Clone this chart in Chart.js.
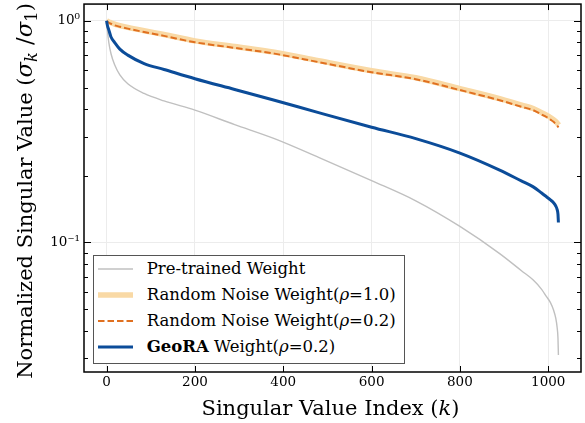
<!DOCTYPE html>
<html>
<head>
<meta charset="utf-8">
<script src="https://cdn.jsdelivr.net/npm/chart.js@4"></script>
<style>
html,body{margin:0;padding:0;background:#fff;}
#wrap{position:relative;width:585px;height:423px;font-family:"DejaVu Serif",serif;color:#000;overflow:hidden;}
#c{position:absolute;left:0;top:0;}
.t{position:absolute;white-space:nowrap;}
#xtitle{left:80.5px;width:500px;top:397.7px;text-align:center;font-size:21px;line-height:20px;}
#ytitle{left:-185.6px;top:181px;width:420px;height:20px;text-align:center;font-size:21px;line-height:20px;transform:rotate(-90deg);transform-origin:50% 50%;}
#ytitle .m{font-size:1.08em;}
sub{font-size:0.72em;vertical-align:-0.28em;line-height:0;}
#legbox{position:absolute;left:93px;top:255px;width:312px;height:109px;box-sizing:border-box;border:1px solid #555;background:#fff;}
.lg{font-size:16.5px;line-height:20px;left:146.7px;}
#samples{position:absolute;left:0;top:0;}
</style>
</head>
<body>
<div id="wrap">
  <canvas id="c" width="585" height="423"></canvas>
  <div id="legbox"></div>
  <svg id="samples" width="585" height="423">
    <line x1="98" y1="269" x2="133" y2="269" stroke="#c0c0c0" stroke-width="1.5"/>
    <line x1="98" y1="295" x2="133" y2="295" stroke="#f9d9a5" stroke-width="5.5"/>
    <line x1="98" y1="321" x2="133" y2="321" stroke="#e07020" stroke-width="2" stroke-dasharray="6.5,3"/>
    <line x1="98" y1="347" x2="133" y2="347" stroke="#0b4c99" stroke-width="3"/>
  </svg>
  <div class="t lg" style="top:258.8px">Pre-trained Weight</div>
  <div class="t lg" style="top:284.8px">Random Noise Weight(<i>ρ</i>=1.0)</div>
  <div class="t lg" style="top:310.8px">Random Noise Weight(<i>ρ</i>=0.2)</div>
  <div class="t lg" style="top:336.8px"><b>GeoRA</b> Weight(<i>ρ</i>=0.2)</div>
  <div class="t" id="xtitle">Singular Value Index (<i>k</i>)</div>
  <div class="t" id="ytitle">Normalized Singular Value (<span class="m"><i>σ<sub>k</sub></i> /<i>σ</i><sub>1</sub></span>)</div>
</div>
<script>
// ---- data ----
const kIdx = [0, 2, 5, 10, 18, 30, 48, 85, 130, 200, 290, 380, 480, 600, 700, 800, 890, 940, 966, 985, 996, 1005, 1012, 1017, 1020, 1022, 1023];
const pretrained = [1.0, 0.90, 0.80, 0.71, 0.635, 0.57, 0.52, 0.47, 0.435, 0.395, 0.34, 0.294, 0.242, 0.19, 0.154, 0.118, 0.089, 0.0743, 0.0676, 0.0614, 0.0569, 0.0535, 0.0495, 0.0455, 0.0415, 0.037, 0.031];
const noiseRho10 = [1.0, 0.995, 0.988, 0.98, 0.967, 0.952, 0.934, 0.902, 0.867, 0.812, 0.766, 0.722, 0.661, 0.595, 0.553, 0.494, 0.445, 0.416, 0.402, 0.385, 0.375, 0.366, 0.358, 0.351, 0.346, 0.342, 0.339];
const noiseRho02 = [1.0, 0.99, 0.98, 0.97, 0.955, 0.94, 0.922, 0.89, 0.855, 0.80, 0.755, 0.711, 0.651, 0.586, 0.545, 0.487, 0.438, 0.409, 0.395, 0.378, 0.368, 0.358, 0.35, 0.342, 0.337, 0.333, 0.33];
const geora = [1.0, 0.95, 0.91, 0.845, 0.80, 0.745, 0.70, 0.641, 0.603, 0.548, 0.49, 0.438, 0.385, 0.331, 0.294, 0.253, 0.212, 0.189, 0.178, 0.167, 0.1606, 0.1555, 0.151, 0.146, 0.141, 0.134, 0.123];
const xTicks = [0, 200, 400, 600, 800, 1000];
const yMajorTicks = [0.1, 1];
const yMinorTicks = [0.03, 0.04, 0.05, 0.06, 0.07, 0.08, 0.09, 0.2, 0.3, 0.4, 0.5, 0.6, 0.7, 0.8, 0.9];
const yTickLabels = {"0.1": "10\u207B\u00B9", "1": "10\u2070"};

const pts = vals => kIdx.map((k, i) => ({x: k, y: vals[i]}));

const frameTicks = {
  id: 'frameTicks',
  afterDraw(chart) {
    const {ctx, chartArea: {left, right, top, bottom}, scales: {x, y}} = chart;
    ctx.save();
    ctx.strokeStyle = '#000';
    ctx.lineWidth = 1;
    ctx.beginPath();
    xTicks.forEach(v => {
      const px = Math.round(x.getPixelForValue(v)) + 0.5;
      ctx.moveTo(px, bottom); ctx.lineTo(px, bottom - 6);
      ctx.moveTo(px, top); ctx.lineTo(px, top + 6);
    });
    yMajorTicks.forEach(v => {
      const py = Math.round(y.getPixelForValue(v)) + 0.5;
      ctx.moveTo(left, py); ctx.lineTo(left + 7, py);
      ctx.moveTo(right, py); ctx.lineTo(right - 7, py);
    });
    yMinorTicks.forEach(v => {
      const py = Math.round(y.getPixelForValue(v)) + 0.5;
      ctx.moveTo(left, py); ctx.lineTo(left + 4, py);
      ctx.moveTo(right, py); ctx.lineTo(right - 4, py);
    });
    ctx.stroke();
    ctx.lineWidth = 1.5;
    ctx.strokeRect(left, top, right - left, bottom - top);
    ctx.restore();
  }
};

new Chart(document.getElementById('c'), {
  type: 'line',
  data: {
    datasets: [
      {label: 'Pre-trained Weight', data: pts(pretrained), borderColor: '#c0c0c0', borderWidth: 1.4, order: 4},
      {label: 'Random Noise Weight(ρ=1.0)', data: pts(noiseRho10), borderColor: '#f9d9a5', borderWidth: 5.5, order: 3},
      {label: 'Random Noise Weight(ρ=0.2)', data: pts(noiseRho02), borderColor: '#e07020', borderWidth: 2, borderDash: [6.5, 3], order: 2},
      {label: 'GeoRA Weight(ρ=0.2)', data: pts(geora), borderColor: '#0b4c99', borderWidth: 3, order: 1}
    ]
  },
  options: {
    responsive: false,
    animation: false,
    devicePixelRatio: 1,
    layout: {padding: {left: 0, top: 4, right: 4, bottom: 0}},
    elements: {point: {radius: 0}, line: {cubicInterpolationMode: 'monotone', fill: false}},
    plugins: {legend: {display: false}, tooltip: {enabled: false}},
    scales: {
      x: {
        type: 'linear',
        min: -51.15, max: 1074.15,
        afterBuildTicks: s => { s.ticks = xTicks.map(v => ({value: v})); },
        afterFit: s => { s.height = 51; },
        ticks: {autoSkip: false, maxRotation: 0, padding: 2, color: '#000', font: {family: 'DejaVu Serif', size: 13.5}, callback: v => String(v)},
        grid: {drawTicks: false, color: '#ececec', lineWidth: 1},
        border: {display: false}
      },
      y: {
        type: 'logarithmic',
        min: 0.026, max: 1.19,
        afterBuildTicks: s => { s.ticks = yMinorTicks.concat(yMajorTicks).sort((a, b) => a - b).map(v => ({value: v})); },
        afterFit: s => { s.width = 84; },
        ticks: {autoSkip: false, padding: 4, color: '#000', font: {family: 'DejaVu Serif', size: 13.5, lineHeight: 0.01},
          callback: v => yTickLabels[String(v)] || ''},
        grid: {drawTicks: false, lineWidth: 1,
          color: c => (c.tick && yMajorTicks.includes(c.tick.value)) ? '#ececec' : 'rgba(0,0,0,0)'},
        border: {display: false}
      }
    }
  },
  plugins: [frameTicks]
});
</script>
</body>
</html>
